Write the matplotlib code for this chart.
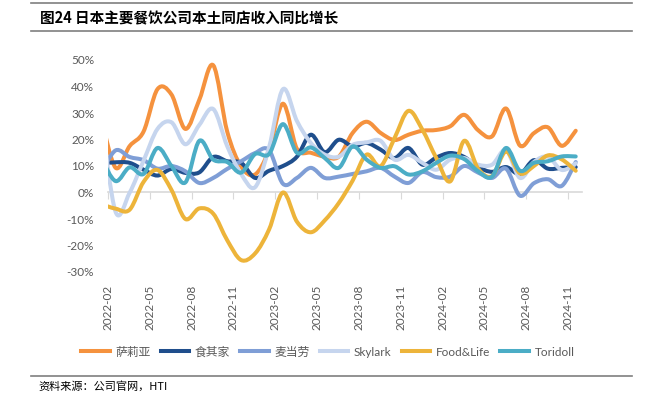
import numpy as np
import matplotlib
matplotlib.use('Agg')
import matplotlib.pyplot as plt
from matplotlib.path import Path
from matplotlib.patches import PathPatch
from matplotlib.lines import Line2D

plt.rcParams['font.family'] = ['Lato', 'Noto Sans CJK SC', 'DejaVu Sans']

# monthly points, 2022-01 .. 2024-11 (the 2022-01 point sits just left of the axis and is clipped)
months = ['2022-01', '2022-02', '2022-03', '2022-04', '2022-05', '2022-06', '2022-07',
          '2022-08', '2022-09', '2022-10', '2022-11', '2022-12', '2023-01', '2023-02',
          '2023-03', '2023-04', '2023-05', '2023-06', '2023-07', '2023-08', '2023-09',
          '2023-10', '2023-11', '2023-12', '2024-01', '2024-02', '2024-03', '2024-04',
          '2024-05', '2024-06', '2024-07', '2024-08', '2024-09', '2024-10', '2024-11']
tick_labels = ['2022-02', '2022-05', '2022-08', '2022-11', '2023-02', '2023-05',
               '2023-08', '2023-11', '2024-02', '2024-05', '2024-08', '2024-11']

names = ['萨莉亚', '食其家', '麦当劳', 'Skylark', 'Food&Life', 'Toridoll']

saizeriya = [27, 9.3, 17.5, 23, 39, 37, 24, 35, 48, 23, 9.8, 6.8, 16, 33.5, 16.5, 15, 13.5,
             13.5, 22.5, 26.7, 22.5, 19.8, 21.8, 23.3, 23.6, 25, 29.3, 23.5, 21.2, 31.7,
             17.7, 22.4, 24.6, 17.6, 23.3]
sukiya = [11, 11.4, 11.2, 8.6, 6.4, 8.9, 7.4, 7.6, 13.4, 11.8, 11.2, 5.5, 8.2, 10, 13.5,
          21.8, 15.2, 19.9, 17.4, 18.7, 16.2, 13, 16.8, 10.5, 13.2, 14.9, 13.4, 9.6, 7.8,
          9.6, 7, 12.2, 9, 9.3, 9.6]
mcd = [8, 15.9, 13.4, 12.2, 9, 10, 8, 3.6, 5.5, 8.9, 11.8, 14.9, 16, 3.3, 5.5, 9.3, 5.5,
       6, 7, 8, 9.3, 6, 3.6, 7.7, 5.8, 6, 10, 7.5, 5.5, 9, -1.2, 3.5, 5, 2.5, 11.5]
skylark = [27, -7.4, -0.1, 12, 24, 26.5, 18.2, 25.5, 31.5, 17.5, 7, 2, 17, 39, 27, 18.7,
           14.3, 13.5, 18, 18.9, 19.5, 12.4, 14.2, 11.2, 8.6, 12.4, 13, 10.5, 10.5, 16,
           5.5, 11.5, 13.5, 8.5, 11]
food_life = [-4.5, -6.1, -6.5, 4, 8.5, 1, -10, -6, -8, -18, -25.5, -23, -14, 0, -11, -15,
             -10.5, -4, 4.5, 14.3, 9.9, 20.5, 30.8, 23.7, 13, 4.2, 19.5, 9, 6.2, 15.5,
             7.2, 10, 14, 12.5, 8.2]
toridoll = [12.5, 4.3, 9.5, 7, 16.8, 10, 3.8, 19.5, 12.4, 11.5, 7.5, 14.5, 14.5, 25.8, 15,
            17, 13, 9.3, 17.4, 12.4, 9.3, 9.9, 6.8, 8, 11.2, 13.9, 12.6, 8, 6, 16.8, 8.2,
            11.2, 11.8, 13.6, 13.6]

colors = ['#F5923E', '#1F4E8C', '#7F9ED6', '#C6D5EE', '#EDB43A', '#4BADC6']
series = [saizeriya, sukiya, mcd, skylark, food_life, toridoll]


def smooth_path(x, y):
    # excel-style smoothed line: cubic bezier through every point
    pts = np.column_stack([x, y])
    ext = np.vstack([pts[0], pts, pts[-1]])
    verts = [pts[0]]
    codes = [Path.MOVETO]
    for k in range(len(pts) - 1):
        p0, p1, p2, p3 = ext[k], ext[k + 1], ext[k + 2], ext[k + 3]
        verts += [p1 + (p2 - p0) / 6, p2 - (p3 - p1) / 6, p2]
        codes += [Path.CURVE4] * 3
    return Path(verts, codes)


fig = plt.figure(figsize=(6.48, 3.99), dpi=100)
ax = fig.add_axes([108 / 648, 1 - 272 / 399, 474 / 648, 212 / 399])

# axis starts at 2022-02; points are plotted mid-month
x = np.arange(len(months)) - 1 + 0.55
for vals, col in zip(series, colors):
    ax.add_patch(PathPatch(smooth_path(x, vals), facecolor='none', edgecolor=col,
                           lw=2.9, capstyle='round', joinstyle='round'))

ax.set_xlim(0, 34)
ax.set_ylim(-30, 50)
yt = np.arange(-30, 51, 10)
ax.set_yticks(yt, [f'{v}%' for v in yt])
tick_pos = [months.index(t) - 1 for t in tick_labels]
ax.set_xticks(tick_pos, tick_labels, rotation=90)
ax.tick_params(axis='both', length=0, colors='#595959', labelsize=8.5)
ax.tick_params(axis='x', pad=9)
ax.tick_params(axis='y', pad=10)
for s in ax.spines.values():
    s.set_visible(False)

# category axis crossing at 0%
zero = ax.secondary_xaxis(30 / 80)
zero.set_xticks(tick_pos)
zero.tick_params(length=5, color='#D9D9D9', labelbottom=False)
zero.spines['bottom'].set_color('#D9D9D9')
zero.spines['bottom'].set_linewidth(1.2)

handles = [Line2D([], [], color=c, lw=2.9) for c in colors]
fig.legend(handles, names, loc='center', bbox_to_anchor=(0.506, 1 - 352 / 399), ncol=6,
           frameon=False, handlelength=2.4, columnspacing=0.85, handletextpad=0.5,
           fontsize=8.5, labelcolor='#595959')

fig.text(40 / 648, 1 - 18 / 399, '图24 日本主要餐饮公司本土同店收入同比增长',
         fontsize=10.5, fontweight='bold', va='center', family=['Noto Sans CJK SC'])
fig.text(38 / 648, 1 - 386 / 399, '资料来源：公司官网，HTI', fontsize=8, va='center',
         family=['Noto Sans CJK SC'])

for yy in [3, 31, 376]:
    fig.add_artist(Line2D([31 / 648, 632 / 648], [1 - yy / 399] * 2, color='#7F7F7F', lw=1.2))

fig.savefig('out.png', dpi=100)
